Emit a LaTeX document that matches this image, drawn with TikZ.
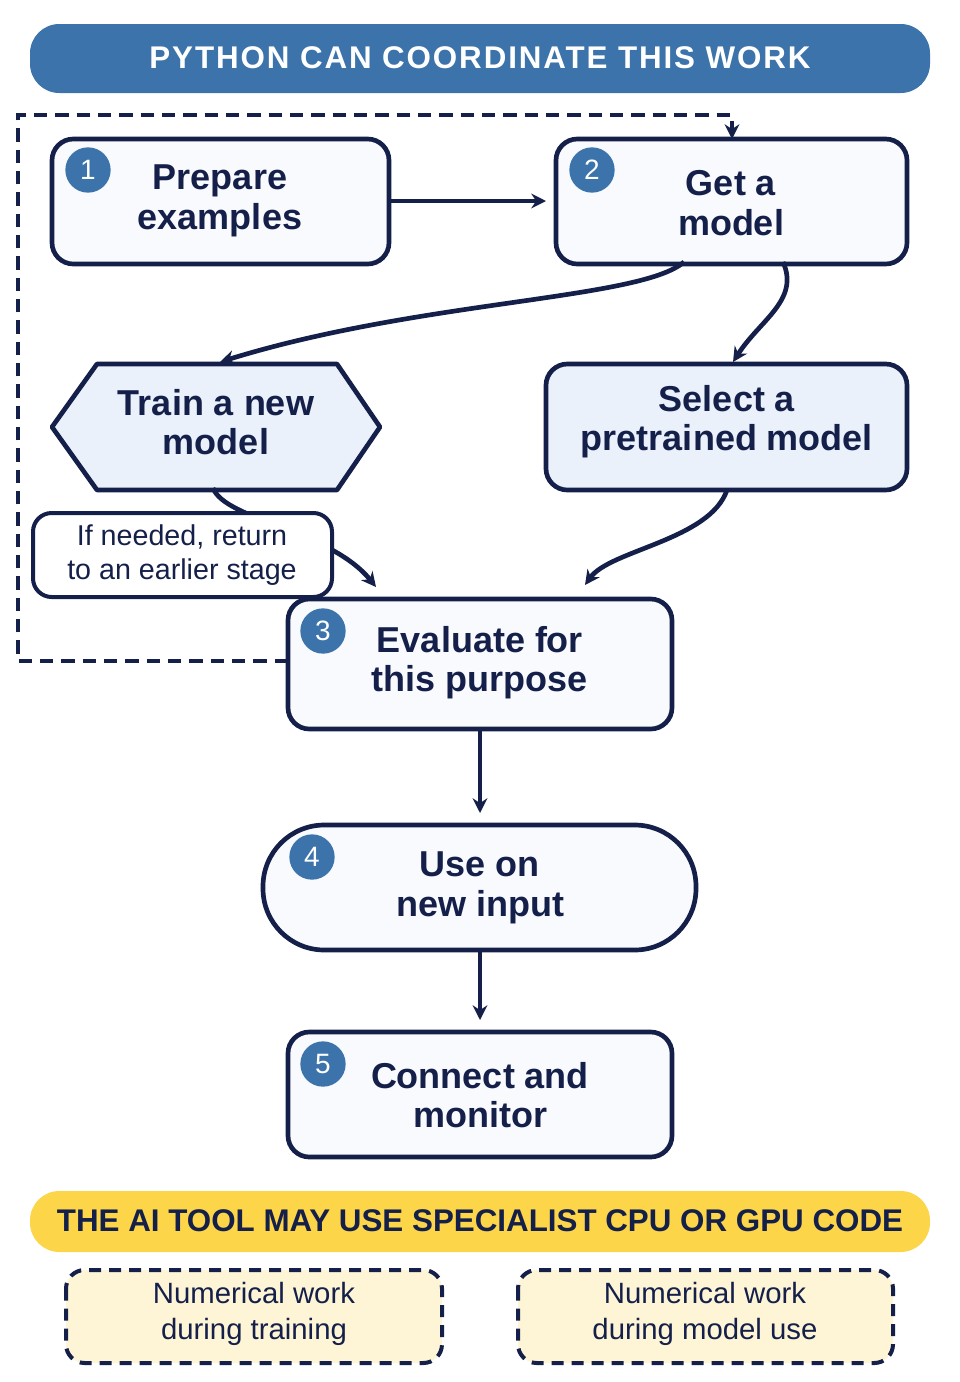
\documentclass[tikz,border=0pt]{standalone}
\usepackage{fontspec}
\setmainfont{Liberation Sans}
\usetikzlibrary{arrows.meta,shapes.geometric}
\definecolor{navy}{HTML}{15204A}
\definecolor{hblue}{HTML}{3B73AA}
\definecolor{lblue}{HTML}{EAF1FB}
\definecolor{wfill}{HTML}{F9FAFD}
\definecolor{barYellow}{HTML}{FCD648}
\definecolor{ypale}{HTML}{FDF5D6}
\begin{document}
\begin{tikzpicture}[x=0.75pt,y=-0.75pt,
  box/.style={draw=navy,line width=3.5pt,rounded corners=16pt,fill=wfill},
  lbl/.style={font=\fontsize{27}{29.5}\selectfont\bfseries,text=navy,align=center},
  badge/.style={circle,fill=hblue,minimum size=34pt,inner sep=0pt,text=white,font=\fontsize{21}{21}\selectfont},
  arr/.style={draw=navy,line width=3.5pt,-{Stealth[length=11pt,width=11pt]}},
  dbox/.style={draw=navy,line width=3pt,dash pattern=on 9pt off 6pt,rounded corners=14pt,fill=ypale}]
\useasboundingbox (0,0) rectangle (960,1382);
\fill[white] (0,0) rectangle (960,1382);
% header
\fill[hblue,rounded corners=22pt] (30,24) rectangle (930,93);
\node (hdr) at (480,58) {\color{white}\fontsize{23.5}{25}\selectfont\bfseries\addfontfeature{LetterSpace=6}PYTHON CAN COORDINATE THIS WORK};
% boxes
\draw[box] (52,139) rectangle (389,264);
\node[lbl] (t1) at (220,201) {Prepare\\examples};
\node[badge] (n1) at (88,170) {1};
\draw[box] (556,139) rectangle (907,264);
\node[lbl] (t2) at (731,203) {Get a\\model};
\node[badge] (n2) at (592,170) {2};
\draw[navy,line width=3.5pt,fill=lblue,line join=round] (52,427)--(97,364)--(337,364)--(380,427)--(337,490)--(97,490)--cycle;
\node[lbl] (t3) at (216,422) {Train a new\\model};
\draw[box,fill=lblue] (546,364) rectangle (907,490);
\node[lbl] (t4) at (727,422) {Select a\\pretrained model};
\draw[box] (288,599) rectangle (672,729);
\node[lbl] (t5) at (480,663) {Evaluate for\\this purpose};
\node[badge] (n3) at (323,631) {3};
\draw[box,rounded corners=46pt] (263,825) rectangle (696,950);
\node[lbl] (t6) at (480,888) {Use on\\new input};
\node[badge] (n4) at (312,857) {4};
\draw[box] (288,1032) rectangle (672,1157);
\node[lbl] (t7) at (480,1095) {Connect and\\monitor};
\node[badge] (n5) at (323,1064) {5};
% arrows
\coordinate (a1s) at (389,201); \coordinate (a1e) at (546,201);
\draw[arr] (a1s)--(a1e);
\coordinate (a2s) at (684,262); \coordinate (a2e) at (220,362);
\draw[arr] (a2s) .. controls (640,300) and (420,300) .. (a2e);
\coordinate (a3s) at (783,262); \coordinate (a3e) at (733,362);
\draw[arr] (a3s) .. controls (800,300) and (760,320) .. (a3e);
\coordinate (a4s) at (213,488); \coordinate (a4e) at (376,587);
\draw[arr] (a4s) .. controls (225,520) and (330,530) .. (a4e);
\coordinate (a5s) at (727,490); \coordinate (a5e) at (585,585);
\draw[arr] (a5s) .. controls (710,540) and (610,550) .. (a5e);
\coordinate (a6s) at (480,729); \coordinate (a6e) at (480,813);
\draw[arr] (a6s)--(a6e);
\coordinate (a7s) at (480,950); \coordinate (a7e) at (480,1020);
\draw[arr] (a7s)--(a7e);
% loop
\coordinate (ls) at (288,661); \coordinate (le) at (732,139);
\draw[arr,line width=3pt,dash pattern=on 10pt off 6pt] (ls) -- (18,661) -- (18,115) -- (732,115) -- (le);
% note
\draw[navy,line width=3pt,rounded corners=14pt,fill=white] (33,513) rectangle (332,597);
\node[font=\fontsize{21.5}{26}\selectfont,text=navy,align=center] (note) at (182,555) {If needed, return\\to an earlier stage};
% bottom
\fill[barYellow,rounded corners=22pt] (30,1191) rectangle (930,1252);
\node (ytxt) at (480,1221) {\color{navy}\fontsize{23.5}{25}\selectfont\bfseries THE AI TOOL MAY USE SPECIALIST CPU OR GPU CODE};
\draw[dbox] (66,1270) rectangle (442,1363);
\node[font=\fontsize{22}{27}\selectfont,text=navy,align=center] (d1) at (254,1314) {Numerical work\\during training};
\draw[dbox] (518,1270) rectangle (893,1363);
\node[font=\fontsize{22}{27}\selectfont,text=navy,align=center] (d2) at (705,1314) {Numerical work\\during model use};
\end{tikzpicture}
\end{document}
